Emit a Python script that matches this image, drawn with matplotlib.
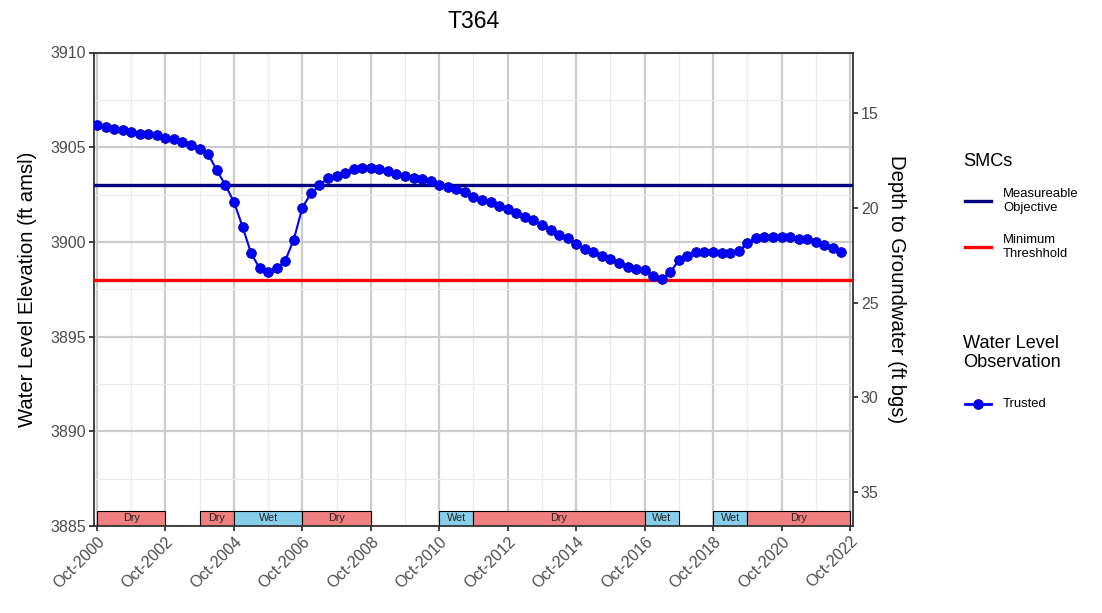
#!/usr/bin/env python3
"""Hydrograph for well T364 with SMC lines and water-year types."""

import matplotlib

matplotlib.use("Agg")
import matplotlib.dates as mdates
import matplotlib.pyplot as plt
import pandas as pd
from matplotlib.lines import Line2D
from matplotlib.ticker import FixedLocator, MultipleLocator

plt.rcParams["font.family"] = ["Liberation Sans", "DejaVu Sans"]

WELL = "T364"
GROUND_SURFACE = 3921.8
MEASURABLE_OBJECTIVE = 3903.0
MINIMUM_THRESHOLD = 3898.0

# quarterly observations, Oct 2000 onward (ft amsl)
obs_dates = pd.date_range("2000-10-01", periods=88, freq="3MS")
obs_elev = [
    3906.19, 3906.07, 3905.98, 3905.89, 3905.79, 3905.70, 3905.72, 3905.63, 3905.51, 3905.41,
    3905.30, 3905.11, 3904.89, 3904.62, 3903.79, 3903.00, 3902.11, 3900.81, 3899.41, 3898.62,
    3898.42, 3898.62, 3899.00, 3900.11, 3901.81, 3902.56, 3902.98, 3903.38, 3903.47, 3903.62,
    3903.83, 3903.91, 3903.91, 3903.83, 3903.72, 3903.58, 3903.49, 3903.40, 3903.30, 3903.19,
    3903.02, 3902.91, 3902.77, 3902.61, 3902.39, 3902.21, 3902.11, 3901.91, 3901.72, 3901.53,
    3901.33, 3901.14, 3900.88, 3900.62, 3900.35, 3900.18, 3899.88, 3899.65, 3899.47, 3899.26,
    3899.09, 3898.88, 3898.68, 3898.56, 3898.53, 3898.21, 3898.05, 3898.40, 3899.03, 3899.28,
    3899.46, 3899.49, 3899.46, 3899.40, 3899.44, 3899.51, 3899.93, 3900.19, 3900.25, 3900.28,
    3900.28, 3900.25, 3900.14, 3900.14, 3899.98, 3899.83, 3899.67, 3899.49,
]

# water year types shown along the bottom
year_types = ["Dry", "Dry", "Wet", "Dry", "Wet", "Dry", "Wet", "Wet", "Dry"]
year_start = ["2000-10-01", "2003-10-01", "2004-10-01", "2006-10-01", "2010-10-01",
              "2011-10-01", "2016-10-01", "2018-10-01", "2019-10-01"]
year_end = ["2002-10-01", "2004-10-01", "2006-10-01", "2008-10-01", "2011-10-01",
            "2016-10-01", "2017-10-01", "2019-10-01", "2022-10-01"]

depth_ticks = [15, 20, 25, 30, 35]

TYPE_COLORS = {"Dry": "#F08080", "Wet": "#87CEEB"}
AXIS_GRAY = "#333333"
TEXT_GRAY = "#4D4D4D"

W, H = 1102, 613
fig = plt.figure(figsize=(W / 100, H / 100), dpi=100)


def fx(px):
    return px / W


def fy(py):
    return 1 - py / H


ax = fig.add_axes([fx(94), fy(526), fx(853) - fx(94), fy(52.5) - fy(526)])

# grid
ax.xaxis.set_major_locator(mdates.YearLocator(base=2, month=10, day=1))
ax.xaxis.set_minor_locator(mdates.YearLocator(base=1, month=10, day=1))
ax.xaxis.set_major_formatter(mdates.DateFormatter("%b-%Y"))
ax.yaxis.set_major_locator(MultipleLocator(5))
ax.yaxis.set_minor_locator(MultipleLocator(2.5))
ax.grid(which="major", color="#CCCCCC", linewidth=1.6, zorder=0)
ax.grid(which="minor", color="#EBEBEB", linewidth=0.9, zorder=0)
ax.set_axisbelow(True)

# water-year type strip
starts = mdates.date2num(pd.to_datetime(year_start))
ends = mdates.date2num(pd.to_datetime(year_end))
strip_base, strip_height = 3885.0, 0.8
for kind, s, e in zip(year_types, starts, ends):
    ax.bar(s, strip_height, width=e - s, bottom=strip_base, align="edge",
           color=TYPE_COLORS[kind], edgecolor="black", linewidth=0.8, zorder=2)
    ax.text((s + e) / 2, strip_base + strip_height / 2, kind, ha="center",
            va="center", fontsize=7.8, color="#222222", zorder=3)

# SMC lines
ax.axhline(MEASURABLE_OBJECTIVE, color="#000080", linewidth=2.4, zorder=3)
ax.axhline(MINIMUM_THRESHOLD, color="#FF0000", linewidth=2.4, zorder=3)

# observations
ax.plot(obs_dates, obs_elev, color="#0000FF", linewidth=1.5, marker="o",
        markersize=7, markerfacecolor="#0000FF", markeredgecolor="#0000B0",
        markeredgewidth=0.6, zorder=4)

ax.set_xlim(pd.Timestamp("2000-08-30"), pd.Timestamp("2022-11-02"))
ax.set_ylim(3885, 3910)

for side in ("left", "right", "top", "bottom"):
    ax.spines[side].set_color(AXIS_GRAY)
    ax.spines[side].set_linewidth(1.3)
ax.tick_params(which="major", length=3.6, width=1.3, color=AXIS_GRAY,
               labelcolor=TEXT_GRAY, labelsize=11.5, pad=2)
ax.tick_params(which="minor", length=0)
for label in ax.get_xticklabels():
    label.set_rotation(45)
    label.set_ha("right")
    label.set_rotation_mode("anchor")

ax.set_ylabel("Water Level Elevation (ft amsl)", fontsize=14.6, labelpad=10)
ax.set_title(WELL, fontsize=16.6, pad=18)

# depth axis on the right
sec = ax.secondary_yaxis("right", functions=(lambda e: GROUND_SURFACE - e,
                                             lambda d: GROUND_SURFACE - d))
sec.yaxis.set_major_locator(FixedLocator(depth_ticks))
sec.tick_params(length=3.6, width=1.3, color=AXIS_GRAY, labelcolor=TEXT_GRAY,
                labelsize=11.5, pad=2)
sec.spines["right"].set_visible(False)
sec.set_ylabel("Depth to Groundwater (ft bgs)", fontsize=14.6, rotation=270,
               labelpad=20)

# legend, drawn by hand to follow the original layout
fig.text(fx(963), fy(161), "SMCs", fontsize=13.1, va="center", ha="left")
fig.add_artist(Line2D([fx(965), fx(991)], [fy(201), fy(201)], color="#000080",
                      linewidth=2.4))
fig.text(fx(1003), fy(201), "Measureable\nObjective", fontsize=9.4, va="center",
         ha="left", linespacing=1.2)
fig.add_artist(Line2D([fx(965), fx(991)], [fy(247), fy(247)], color="#FF0000",
                      linewidth=2.4))
fig.text(fx(1003), fy(247), "Minimum\nThreshhold", fontsize=9.4, va="center",
         ha="left", linespacing=1.2)
fig.text(fx(963), fy(353), "Water Level\nObservation", fontsize=13.1, va="center",
         ha="left", linespacing=1.2)
fig.add_artist(Line2D([fx(965), fx(991)], [fy(404), fy(404)], color="#0000FF",
                      linewidth=2))
fig.add_artist(Line2D([fx(978)], [fy(404)], color="#0000FF", marker="o",
                      markersize=7, markeredgecolor="#0000B0", markeredgewidth=0.6))
fig.text(fx(1003), fy(404), "Trusted", fontsize=9.4, va="center", ha="left")

fig.savefig("out.png", dpi=100)
